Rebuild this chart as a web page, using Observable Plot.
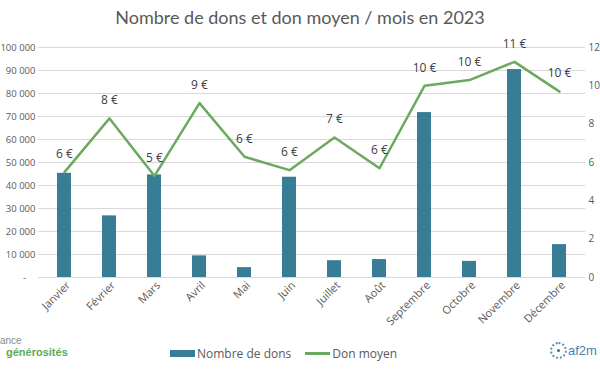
<!DOCTYPE html>
<html>
<head>
<meta charset="utf-8">
<script src="https://cdn.jsdelivr.net/npm/d3@7"></script>
<script src="https://cdn.jsdelivr.net/npm/@observablehq/plot@0.6"></script>
<style>
  html, body { margin: 0; padding: 0; background: #fff; }
  #wrap { position: relative; width: 600px; height: 372px; overflow: hidden; font-family: "Open Sans", sans-serif; }
  #title { position: absolute; left: 0; top: 6px; width: 600px; text-align: center; font-family: Lato, "Open Sans", sans-serif; font-size: 18px; color: #595959; }
  #chart { position: absolute; left: 0; top: 28px; width: 600px; }
  #chart svg { max-width: none; }
  #legend { position: absolute; left: 170px; top: 345px; display: flex; align-items: center; font-size: 12px; color: #595959; }
  .sw-bar { display: inline-block; width: 25px; height: 7px; background: #367D95; margin-right: 2px; }
  .sw-line { display: inline-block; width: 25px; height: 3px; background: #6BAA5E; margin-right: 2px; margin-left: 14px; }
  #logo1 { position: absolute; left: 0; top: 336px; line-height: 1; }
  #logo1 .a { font-family: "Liberation Sans", sans-serif; font-size: 10px; color: #8a8a8a; display: block; }
  #logo1 .b { font-family: "Liberation Sans", sans-serif; font-size: 11px; font-weight: bold; color: #5BAA55; display: block; margin-left: 6px; margin-top: 1px; }
  #logo2 { position: absolute; left: 550px; top: 342px; display: flex; align-items: center; }
  #logo2 .ring { width: 13px; height: 13px; border: 2px dotted #5f8fb0; border-radius: 50%; display: flex; align-items: center; justify-content: center; }
  #logo2 .dot { width: 3px; height: 3px; background: #3a6d8f; border-radius: 50%; }
  #logo2 .t { font-family: "Liberation Sans", sans-serif; font-size: 13px; color: #3f86b0; margin-left: 1px; }
</style>
</head>
<body>
<div id="wrap">
  <div id="title">Nombre de dons et don moyen / mois en 2023</div>
  <div id="chart"></div>
  <div id="legend"><span class="sw-bar"></span><span>Nombre de dons</span><span class="sw-line"></span><span>Don moyen</span></div>
  <div id="logo1"><span class="a">ance</span><span class="b">générosités</span></div>
  <div id="logo2"><div class="ring"><div class="dot"></div></div><span class="t">af2m</span></div>
</div>
<script>
const months = ["Janvier","Février","Mars","Avril","Mai","Juin","Juillet","Août","Septembre","Octobre","Novembre","Décembre"];
const nombreDons = [45300, 26800, 44600, 9400, 4300, 43600, 7300, 7800, 71700, 7000, 90400, 14300];
const donMoyen = [5.5, 8.3, 5.3, 9.1, 6.3, 5.6, 7.3, 5.7, 10.0, 10.3, 11.25, 9.7];
const leftTicks = d3.range(0, 100001, 10000);
const rightTicks = [0, 2, 4, 6, 8, 10, 12];

const leftMax = 100000, rightMax = 12;
const k = leftMax / rightMax;
const data = months.map((m, i) => ({month: m, dons: nombreDons[i], moyen: donMoyen[i], moyenScaled: donMoyen[i] * k}));

const textColor = "#595959";
const chart = Plot.plot({
  width: 600,
  height: 300,
  marginLeft: 38,
  marginRight: 15,
  marginTop: 19,
  marginBottom: 51,
  style: {fontFamily: "'Open Sans', sans-serif", fontSize: "11px", color: textColor, background: "transparent", maxWidth: "none"},
  x: {domain: months, paddingInner: 0.68, paddingOuter: 0.34, label: null},
  y: {domain: [0, leftMax], label: null},
  marks: [
    Plot.gridY(leftTicks, {stroke: "#d9d9d9", strokeOpacity: 1}),
    Plot.axisY(leftTicks, {anchor: "left", tickSize: 0, tickPadding: 3, label: null, fontSize: 9.5,
      tickFormat: d => d === 0 ? "-\u2003" : d3.format(",")(d).replace(/,/g, " ")}),
    Plot.axisY(rightTicks.map(v => v * k), {anchor: "right", tickSize: 0, tickPadding: 3, label: null, fontSize: 10,
      tickFormat: d => String(Math.round(d / k))}),
    Plot.axisX({tickSize: 0, tickPadding: 6, tickRotate: -45, label: null, fontSize: 11, dx: 4}),
    Plot.barY(data, {x: "month", y: "dons", fill: "#367D95"}),
    Plot.lineY(data, {x: "month", y: "moyenScaled", stroke: "#6BAA5E", strokeWidth: 2.5}),
    Plot.text(data, {x: "month", y: "moyenScaled", text: d => Math.round(d.moyen) + " €", dy: -18, fill: "#404040", fontSize: 12})
  ]
});
document.getElementById("chart").appendChild(chart);
</script>
</body>
</html>
